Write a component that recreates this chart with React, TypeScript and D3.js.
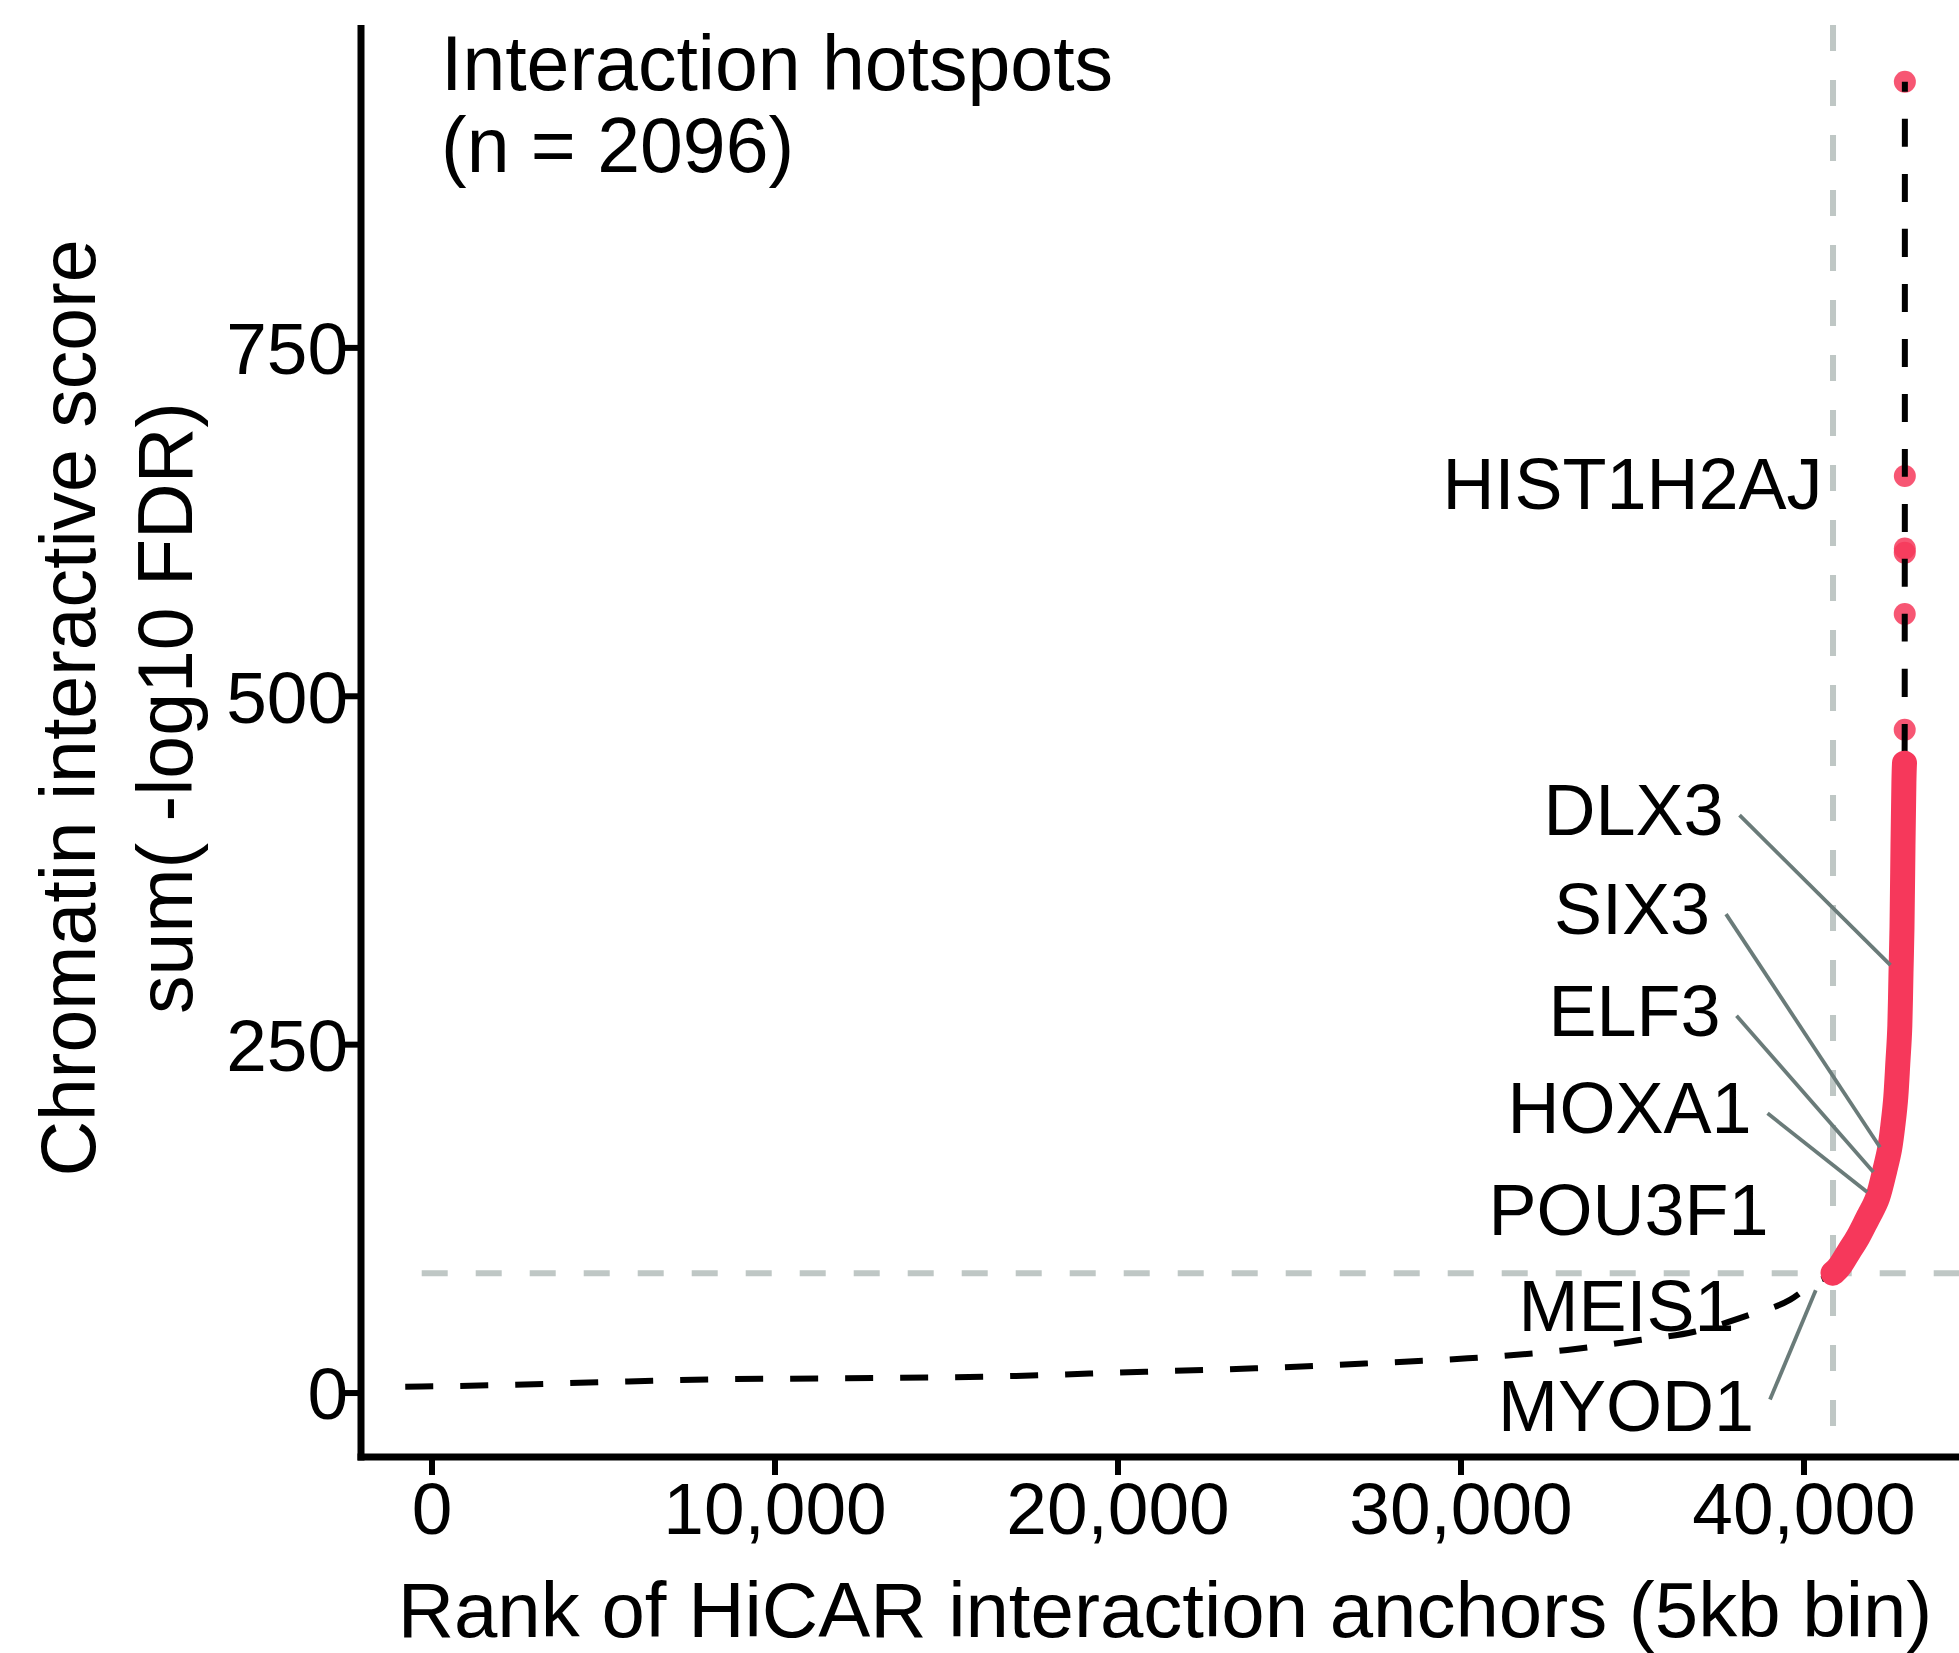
import React from "react";
import * as d3 from "d3";

// Ranked anchors below the hotspot cutoff (sparse readings along the curve)
const backgroundRanks = [-780, 2000, 5200, 8200, 11400, 16100, 20800, 24000, 27300, 30200, 33100, 35200, 36800, 38400, 39600, 40300, 40846];
const backgroundScores = [4.5, 5.7, 8, 9.8, 10.5, 11.7, 15.3, 17.7, 21.3, 24.9, 30.9, 38, 44, 56, 67, 79, 86];

// Dense hotspot run (n = 2096), traced along its centre
const hotspotRanks = [40846, 41050, 41341, 41545, 41924, 42157, 42361, 42507, 42595, 42682, 42741, 42799, 42828, 42857, 42886, 42915, 42930];
const hotspotScores = [86, 90.4, 103.3, 109.8, 129.2, 138.5, 160.8, 174.4, 193.1, 210.4, 241.3, 258.5, 306.6, 325.3, 397, 445, 452];

// Top-scoring individual hotspots
const topRanks = [42936, 42937, 42938, 42939, 42940, 42941];
const topScores = [476, 559, 603, 606, 658, 941];

// Cut-offs
const cutoffRank = 40846;
const cutoffScore = 86;
const cutoffLineStartRank = -300;

// Labelled genes
const genes = ["HIST1H2AJ", "DLX3", "SIX3", "ELF3", "HOXA1", "POU3F1", "MEIS1", "MYOD1"];
const geneRanks = [42940, 42810, 42440, 42290, 42160, 41900, 37000, 40500];
const geneScores = [658, 300, 168, 151, 138, 123, 47, 83];
const labelRanks = [35000, 35029, 34985, 35058, 34913, 34883, 34825, 34810];
const labelScores = [653, 419, 348, 275, 205, 132, 63, -9];
const labelSegments = [false, true, true, true, true, false, false, true];

const xTicks = [0, 10000, 20000, 30000, 40000];
const yTicks = [0, 250, 500, 750];

const W = 1959;
const H = 1653;
const FONT = "'Liberation Sans', Arial, Helvetica, sans-serif";
const RED = "#f6385b";
const GREY = "#bfc7c5";
const SEG = "#6a7b79";

const LABEL_SIZE = 72;
const TICK_SIZE = 73;
const TITLE_SIZE = 78;

function textWidth(s: string, size: number): number {
  const c = document.createElement("canvas").getContext("2d");
  if (!c) return s.length * size * 0.6;
  c.font = `${size}px 'Liberation Sans', Arial, sans-serif`;
  return c.measureText(s).width;
}

export default function App() {
  const left = 361, right = W, top = 25, bottom = 1457;
  const x = d3.scaleLinear().domain([-2070, 44519]).range([left, right]);
  const y = d3.scaleLinear().domain([-45.9, 981.7]).range([bottom, top]);

  const allRanks = [...backgroundRanks, ...hotspotRanks.slice(1), ...topRanks];
  const allScores = [...backgroundScores, ...hotspotScores.slice(1), ...topScores];
  const pts: [number, number][] = allRanks.map((r, i) => [r, allScores[i]]);
  const band: [number, number][] = hotspotRanks.map((r, i) => [r, hotspotScores[i]]);

  const line = d3
    .line<[number, number]>()
    .x((d) => x(d[0]))
    .y((d) => y(d[1]))
    .curve(d3.curveMonotoneX);

  const bandLine = d3
    .line<[number, number]>()
    .x((d) => x(d[0]))
    .y((d) => y(d[1]))
    .curve(d3.curveBasis);

  const fmt = d3.format(",");

  return (
    <svg
      width={W}
      height={H}
      viewBox={`0 0 ${W} ${H}`}
      style={{ position: "absolute", left: 0, top: 0, background: "#fff" }}
      fontFamily={FONT}
    >
      <rect x={0} y={0} width={W} height={H} fill="#fff" />

      {/* cut-off guides */}
      <line
        x1={x(cutoffRank)}
        x2={x(cutoffRank)}
        y1={top}
        y2={bottom}
        stroke={GREY}
        strokeWidth={6}
        strokeDasharray="26 29"
      />
      <line
        x1={x(cutoffLineStartRank)}
        x2={right}
        y1={y(cutoffScore)}
        y2={y(cutoffScore)}
        stroke={GREY}
        strokeWidth={6}
        strokeDasharray="26 28"
      />

      {/* individual top hotspots */}
      {topRanks.map((r, i) => (
        <circle key={i} cx={x(r)} cy={y(topScores[i])} r={11} fill={RED} fillOpacity={0.85} />
      ))}

      {/* ranked score curve */}
      <path d={line(pts) || ""} fill="none" stroke="#000" strokeWidth={6} strokeDasharray="28 27" />

      {/* dense hotspot run */}
      <path
        d={bandLine(band) || ""}
        fill="none"
        stroke={RED}
        strokeWidth={25}
        strokeLinecap="round"
        strokeLinejoin="round"
      />

      {/* gene labels */}
      {genes.map((g, i) => {
        const lx = x(labelRanks[i]);
        const ly = y(labelScores[i]);
        const px = x(geneRanks[i]);
        const py = y(geneScores[i]);
        let seg = null;
        if (labelSegments[i]) {
          const w = textWidth(g, LABEL_SIZE);
          const sx = lx + w / 2 + 16;
          const sy = ly + 6 * Math.sign(py - ly);
          const dx = px - sx;
          const dy = py - sy;
          const len = Math.hypot(dx, dy);
          const trim = 14;
          seg = (
            <line
              x1={sx}
              y1={sy}
              x2={px - (dx / len) * trim}
              y2={py - (dy / len) * trim}
              stroke={SEG}
              strokeWidth={3.8}
            />
          );
        }
        return (
          <g key={g}>
            {seg}
            <text x={lx} y={ly + LABEL_SIZE * 0.36} fontSize={LABEL_SIZE} textAnchor="middle" fill="#000">
              {g}
            </text>
          </g>
        );
      })}

      {/* annotation */}
      <text x={441} y={90} fontSize={77} fill="#000">
        Interaction hotspots
      </text>
      <text x={441} y={172} fontSize={77} fill="#000">
        (n = 2096)
      </text>

      {/* axes */}
      <line x1={left} x2={left} y1={top} y2={bottom + 3.5} stroke="#000" strokeWidth={7} />
      <line x1={left - 3.5} x2={right} y1={bottom} y2={bottom} stroke="#000" strokeWidth={7} />

      {yTicks.map((t) => (
        <g key={`y${t}`}>
          <line x1={left - 16} x2={left} y1={y(t)} y2={y(t)} stroke="#000" strokeWidth={6} />
          <text x={348} y={y(t) + TICK_SIZE * 0.36} fontSize={TICK_SIZE} textAnchor="end" fill="#000">
            {fmt(t)}
          </text>
        </g>
      ))}
      {xTicks.map((t) => (
        <g key={`x${t}`}>
          <line x1={x(t)} x2={x(t)} y1={bottom} y2={bottom + 18} stroke="#000" strokeWidth={6} />
          <text x={x(t)} y={1534} fontSize={TICK_SIZE} textAnchor="middle" fill="#000">
            {fmt(t)}
          </text>
        </g>
      ))}

      {/* axis titles */}
      <text x={1165} y={1637} fontSize={TITLE_SIZE} textAnchor="middle" fill="#000">
        Rank of HiCAR interaction anchors (5kb bin)
      </text>
      <text transform="translate(95,708) rotate(-90)" fontSize={77} textAnchor="middle" fill="#000">
        Chromatin interactive score
      </text>
      <text transform="translate(192,708) rotate(-90)" fontSize={77} textAnchor="middle" fill="#000">
        sum( -log10 FDR)
      </text>
    </svg>
  );
}
